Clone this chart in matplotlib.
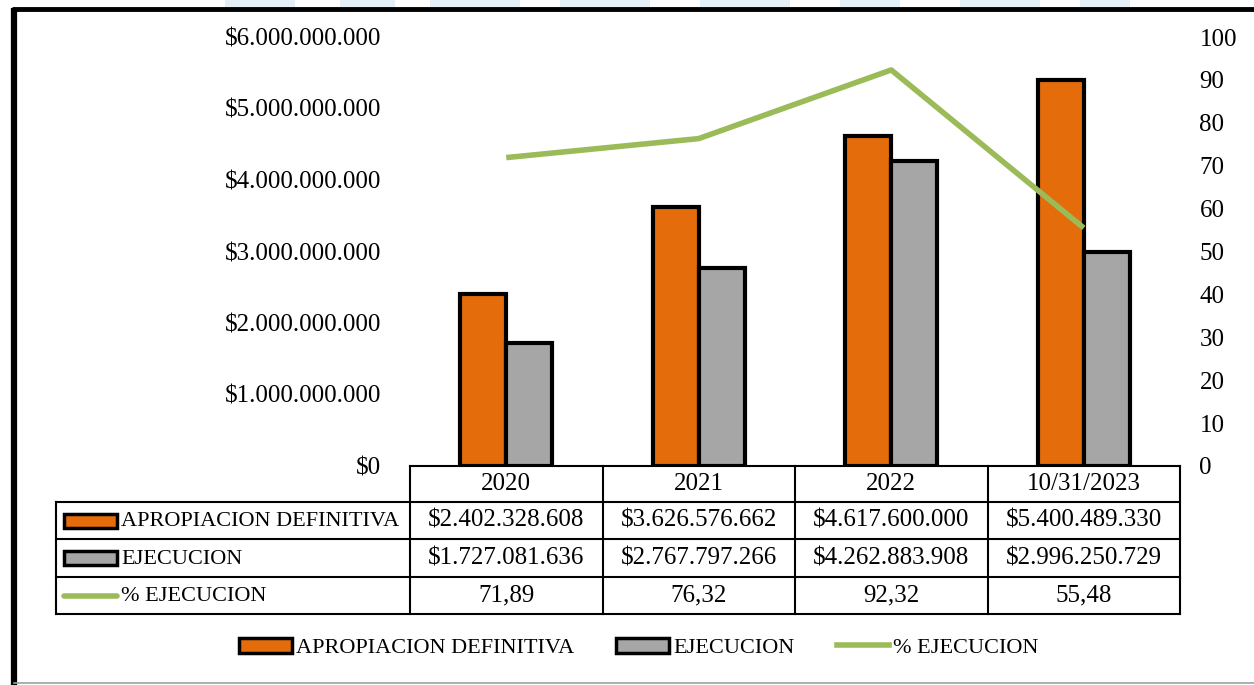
import matplotlib
matplotlib.use("Agg")
import matplotlib.pyplot as plt
from matplotlib.patches import Rectangle, Patch
from matplotlib.lines import Line2D
from matplotlib.ticker import FuncFormatter

plt.rcParams['font.family'] = ['Liberation Serif', 'DejaVu Serif']

# datos de ejecucion presupuestal
periodos = ["2020", "2021", "2022", "10/31/2023"]
apropiacion = [2402328608, 3626576662, 4617600000, 5400489330]
ejecucion = [1727081636, 2767797266, 4262883908, 2996250729]
pct_ejecucion = [71.89, 76.32, 92.32, 55.48]

NARANJA = "#E46C0A"
GRIS = "#A6A6A6"
VERDE = "#9BBB59"

W, H = 1254, 685
fig = plt.figure(figsize=(W / 100, H / 100), dpi=100)

# area de barras (en pixeles de la figura)
x0, x1, y_top, y_base = 410, 1180, 37, 466
ax = fig.add_axes([x0 / W, 1 - y_base / H, (x1 - x0) / W, (y_base - y_top) / H])
ax2 = ax.twinx()

n = len(periodos)
pos = list(range(n))
ancho = 0.24
ax.bar([p - ancho / 2 for p in pos], apropiacion, ancho, color=NARANJA,
       edgecolor="black", linewidth=3, zorder=2)
ax.bar([p + ancho / 2 for p in pos], ejecucion, ancho, color=GRIS,
       edgecolor="black", linewidth=3, zorder=2)
ax2.plot(pos, pct_ejecucion, color=VERDE, linewidth=4, solid_capstyle="butt")

ax.set_xlim(-0.5, n - 0.5)
ax.set_ylim(0, 6e9)
ax2.set_ylim(0, 100)
ax.set_yticks([i * 1e9 for i in range(7)])
ax2.set_yticks(range(0, 101, 10))


def pesos(v, _=None):
    return "$" + f"{int(round(v)):,}".replace(",", ".")


ax.yaxis.set_major_formatter(FuncFormatter(pesos))
ax.set_xticks([])
for a in (ax, ax2):
    for s in a.spines.values():
        s.set_visible(False)
ax.tick_params(axis="y", length=0, pad=21, labelsize=18)
ax2.tick_params(axis="y", length=0, pad=14, labelsize=18)
ax.patch.set_alpha(0)

# tabla de datos y marco
ov = fig.add_axes([0, 0, 1, 1], zorder=-1)
ov.set_xlim(0, W)
ov.set_ylim(H, 0)
ov.axis("off")

col = (x1 - x0) / n
filas = [466, 502, 539, 577, 614]
lw = 1.5
ov.plot([x0, x1], [filas[0], filas[0]], color="black", lw=lw)
for y in filas[1:]:
    ov.plot([56, x1], [y, y], color="black", lw=lw)
ov.plot([56, 56], [filas[1], filas[-1]], color="black", lw=lw)
for i in range(n + 1):
    ov.plot([x0 + i * col] * 2, [filas[0], filas[-1]], color="black", lw=lw)


def centro(r):
    return (filas[r] + filas[r + 1]) / 2


for i, p in enumerate(periodos):
    cx = x0 + (i + 0.5) * col
    ov.text(cx, centro(0), p, ha="center", va="center", fontsize=18)
    ov.text(cx, centro(1), pesos(apropiacion[i]), ha="center", va="center", fontsize=18)
    ov.text(cx, centro(2), pesos(ejecucion[i]), ha="center", va="center", fontsize=18)
    ov.text(cx, centro(3), f"{pct_ejecucion[i]:.2f}".replace(".", ","),
            ha="center", va="center", fontsize=18)

etiquetas = ["APROPIACION DEFINITIVA", "EJECUCION", "% EJECUCION"]
for r, txt in enumerate(etiquetas, start=1):
    cy = centro(r)
    if r < 3:
        ov.add_patch(Rectangle((64, cy - 7), 53, 14, facecolor=[NARANJA, GRIS][r - 1],
                               edgecolor="black", lw=2.5))
    else:
        ov.plot([64, 117], [cy, cy], color=VERDE, lw=4, solid_capstyle="round")
    ov.text(121, cy + 1, txt, ha="left", va="center", fontsize=16)

# marco exterior
ov.plot([14, 14], [8, H], color="black", lw=4.5, solid_capstyle="butt")
ov.plot([12, W], [9, 9], color="black", lw=3.5, solid_capstyle="butt")
ov.plot([14, W], [683, 683], color="#A0A0A0", lw=1.2)

# marca de agua tenue en el borde superior
for xa, xb in [(225, 295), (340, 395), (430, 520), (560, 650), (700, 790),
               (840, 900), (960, 1040), (1080, 1130)]:
    ov.add_patch(Rectangle((xa, 0), xb - xa, 7, facecolor="#E4EFF8", edgecolor="none"))

manejadores = [
    Patch(facecolor=NARANJA, edgecolor="black", linewidth=2.5),
    Patch(facecolor=GRIS, edgecolor="black", linewidth=2.5),
    Line2D([0], [0], color=VERDE, lw=4),
]
fig.legend(manejadores, etiquetas, loc="center", bbox_to_anchor=(639 / W, 1 - 648 / H),
           ncol=3, frameon=False, fontsize=16, handlelength=2.35, handleheight=0.7,
           handletextpad=0.2, columnspacing=1.9)

fig.savefig("out.png", dpi=100, facecolor="white")
